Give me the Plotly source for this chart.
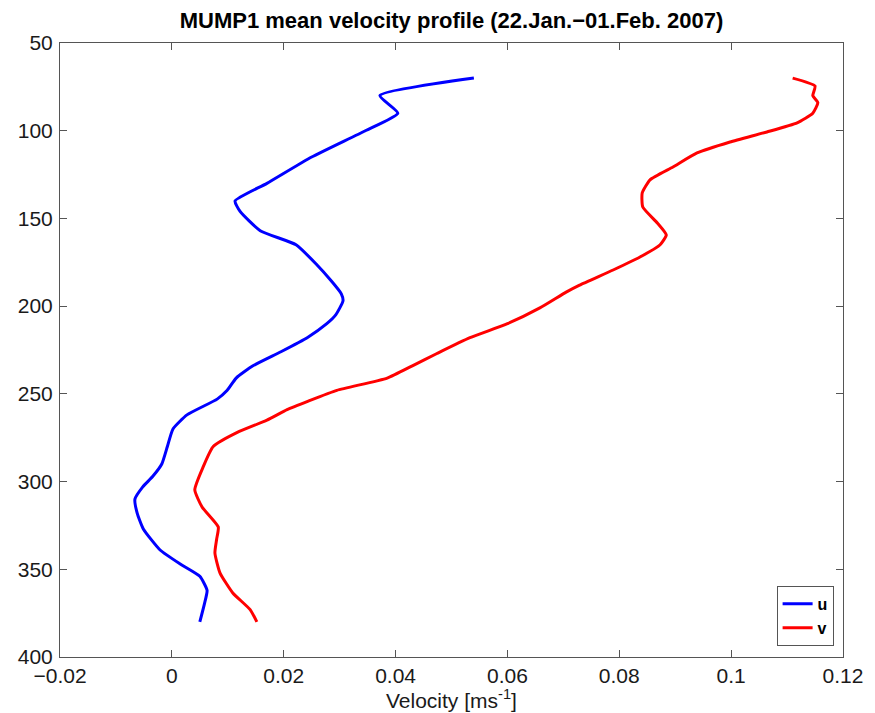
import plotly.graph_objects as go

# depth (m) and velocity (m/s)
depth_u = [70, 80, 90, 100, 115, 130, 140, 146, 157, 165, 176, 186, 193, 197, 205, 210, 218, 226, 234, 241, 248, 253, 262, 270, 280, 290, 297, 303, 310, 318, 327, 339, 347, 354, 362, 370, 380]
u = [0.0540, 0.0372, 0.0404, 0.0346, 0.0250, 0.0170, 0.0113, 0.0122, 0.0158, 0.0222, 0.0258, 0.0286, 0.0303, 0.0306, 0.0293, 0.0277, 0.0242, 0.0195, 0.0145, 0.0115, 0.0099, 0.0081, 0.0027, 0.0002, -0.0008, -0.0018, -0.0034, -0.0052, -0.0066, -0.0062, -0.0051, -0.0021, 0.0015, 0.0050, 0.0063, 0.0058, 0.0050]

depth_v = [70, 74.5, 80, 84, 90, 95.5, 100.7, 106.4, 112.7, 120.7, 128, 135.5, 143.5, 152.6, 159.4, 165, 172, 179.4, 188, 192, 201, 210, 218, 227, 234, 241, 248, 254, 259, 265, 272, 280, 291.6, 304.7, 314.5, 325.9, 333, 340.7, 352, 363.5, 373, 380]
v = [0.1110, 0.1150, 0.1146, 0.1155, 0.1146, 0.1118, 0.1064, 0.0998, 0.0939, 0.0896, 0.0855, 0.0841, 0.0842, 0.0868, 0.0884, 0.0873, 0.0837, 0.0789, 0.0729, 0.0705, 0.0658, 0.0600, 0.0533, 0.0474, 0.0430, 0.0385, 0.0295, 0.0245, 0.0206, 0.0170, 0.0117, 0.0074, 0.0056, 0.0041, 0.0054, 0.0083, 0.0080, 0.0077, 0.0086, 0.0109, 0.0140, 0.0152]

x_ticks = [-0.02, 0, 0.02, 0.04, 0.06, 0.08, 0.1, 0.12]
x_tick_labels = ["\u22120.02", "0", "0.02", "0.04", "0.06", "0.08", "0.1", "0.12"]
y_ticks = [50, 100, 150, 200, 250, 300, 350, 400]
y_tick_labels = ["50", "100", "150", "200", "250", "300", "350", "400"]

FONT = "Liberation Sans, Arial, Helvetica, sans-serif"

fig = go.Figure()
fig.add_trace(go.Scatter(x=u, y=depth_u, mode="lines", name="<b>u</b>",
                         line=dict(color="#0000ff", width=3, shape="spline", smoothing=0.5)))
fig.add_trace(go.Scatter(x=v, y=depth_v, mode="lines", name="<b>v</b>",
                         line=dict(color="#ff0000", width=3, shape="spline", smoothing=0.5)))

axis_common = dict(
    showgrid=False, zeroline=False, showline=True, linecolor="#555555", linewidth=1,
    mirror="ticks", ticks="inside", ticklen=7, tickcolor="#555555",
    tickfont=dict(family=FONT, size=21, color="#1a1a1a"),
)

fig.update_layout(
    width=875, height=713,
    margin=dict(l=60, r=32, t=43, b=56),
    paper_bgcolor="white", plot_bgcolor="white",
    title=dict(text="<b>MUMP1 mean velocity profile (22.Jan.\u221201.Feb. 2007)</b>",
               x=0.5, xref="paper", xanchor="center", y=0.972, yanchor="middle",
               font=dict(family=FONT, size=22, color="black")),
    xaxis=dict(range=[-0.02, 0.12], tickvals=x_ticks, ticktext=x_tick_labels,
               **axis_common),
    yaxis=dict(range=[400, 50], tickvals=y_ticks, ticktext=y_tick_labels,
               ticklabelstandoff=2, **axis_common),
    legend=dict(x=0.988, y=0.018, xanchor="right", yanchor="bottom",
                bgcolor="white", bordercolor="#555555", borderwidth=1,
                font=dict(family=FONT, size=16, color="black"),
                tracegroupgap=0, itemwidth=30),
    showlegend=True,
    annotations=[dict(text="Velocity [ms<sup>-1</sup>]", xref="paper", yref="paper",
                      x=0.5, y=-0.069, xanchor="center", yanchor="middle", showarrow=False,
                      font=dict(family=FONT, size=21, color="#1a1a1a"))],
)

fig.write_html("out.html")
